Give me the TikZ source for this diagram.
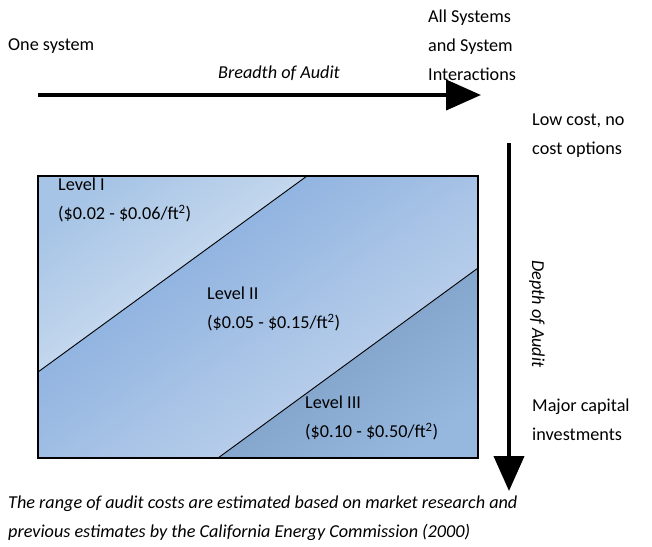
\documentclass[tikz,border=0pt]{standalone}
\usepackage{fontspec}
\setmainfont{Carlito}
\usetikzlibrary{arrows.meta}

\definecolor{lvlonetop}{RGB}{166,196,230}
\definecolor{lvlonebot}{RGB}{224,233,244}
\definecolor{lvltwotop}{RGB}{128,168,220}
\definecolor{lvltwobot}{RGB}{198,216,238}
\definecolor{lvlthreetop}{RGB}{118,150,188}
\definecolor{lvlthreebot}{RGB}{150,184,222}

\begin{document}
\begin{tikzpicture}[x=1pt,y=-1pt,
    txt/.style={inner sep=0pt, align=left, font=\fontsize{18.2}{29}\selectfont},
    axistxt/.style={txt, font=\fontsize{18.2}{29}\selectfont\itshape},
    bigarrow/.style={line width=4pt, -{Triangle[length=35pt,width=30pt]}},
    band/.style={top color=#1top, bottom color=#1bot, shading angle=36}
]
\useasboundingbox (0,0) rectangle (652,546);

% corners of the audit box and where the diagonals meet it
\coordinate (nw) at (38,176);
\coordinate (ne) at (478,176);
\coordinate (sw) at (38,458);
\coordinate (se) at (478,458);
\coordinate (cutA) at (307,176);
\coordinate (cutB) at (38,372);
\coordinate (cutC) at (478,268);
\coordinate (cutD) at (218,458);

% shaded levels
\shade[band=lvlone] (nw) -- (cutA) -- (cutB) -- cycle;
\shade[band=lvltwo] (cutA) -- (ne) -- (cutC) -- (cutD) -- (sw) -- (cutB) -- cycle;
\shade[band=lvlthree] (cutC) -- (se) -- (cutD) -- cycle;
\draw[line width=0.9pt] (cutA) -- (cutB);
\draw[line width=0.9pt] (cutC) -- (cutD);
\draw[line width=1.4pt] (nw) rectangle (se);

% level labels
\node (lvlone) [txt, anchor=north west] at (58,178) {Level I\\(\$0.02 - \$0.06/ft\textsuperscript{2})};
\node (lvltwo) [txt, anchor=north west] at (207,287) {Level II\\(\$0.05 - \$0.15/ft\textsuperscript{2})};
\node (lvlthree) [txt, anchor=north west] at (305,396) {Level III\\(\$0.10 - \$0.50/ft\textsuperscript{2})};

% breadth axis
\coordinate (hstart) at (38,95);
\coordinate (hend) at (481,95);
\draw[bigarrow] (hstart) -- (hend);
\node (breadth) [axistxt] at (279,73) {Breadth of Audit};
\node (onesys) [txt, anchor=west] at (8,46) {One system};
\node (allsys) [txt, anchor=north west] at (428,10) {All Systems\\and System\\Interactions};

% depth axis
\coordinate (vstart) at (509,143);
\coordinate (vend) at (509,491);
\draw[bigarrow] (vstart) -- (vend);
\node (depth) [axistxt, rotate=-90] at (537,314) {Depth of Audit};
\node (lowcost) [txt, anchor=north west] at (532,114) {Low cost, no\\cost options};
\node (major) [txt, anchor=north west] at (532,399) {Major capital\\investments};

% note under the box
\node (note) [axistxt, anchor=north west] at (8,496) {The range of audit costs are estimated based on market research and\\previous estimates by the California Energy Commission (2000)};
\end{tikzpicture}
\end{document}
